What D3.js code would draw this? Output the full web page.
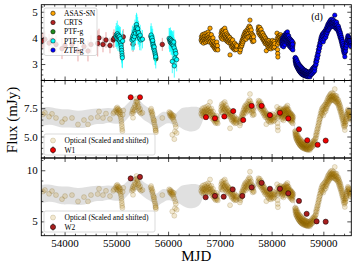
<!DOCTYPE html>
<html><head><meta charset="utf-8">
<script src="https://cdn.jsdelivr.net/npm/d3@7"></script>
<style>
body{margin:0;background:#fff}
svg{display:block}
text{font-family:"Liberation Serif","Times New Roman",serif;fill:#000}
</style></head>
<body><svg id="c" width="357" height="270"></svg>
<script>
// ---------------- DATA ----------------
const xDomain = [53550, 59540];
const xTicks = [54000, 55000, 56000, 57000, 58000, 59000];
const yTicksTop = [3, 4, 5];
const yTicksMid = [5.0, 7.5];
const yTicksBot = [5, 10];
const yDomTop = [2.37, 5.27];
const yDomMid = [3.1, 9.95];
const yDomBot = [3.6, 11.2];

// [MJD, flux (mJy), err]
const crts = [[53580,3.89,0.3],[53620,3.95,0.3],[53700,3.80,0.35],[53757,3.91,0.3],[53834,3.75,0.35],[53950,3.59,0.4],[54008,3.71,0.3],[54143,3.75,0.35],[54259,3.50,0.4],[54375,3.67,0.3],[54452,3.50,0.4],[54510,3.75,0.35],[54640,3.79,0.5],[54665,4.00,0.35],[54742,3.75,0.3],[54800,3.92,0.3],[54877,3.71,0.3],[54941,3.92,0.3],[54955,3.98,0.35],[55134,4.04,0.3],[55322,3.76,0.3],[55888,3.75,0.25]];
const ptfg = [[55758,3.26,0.15],[55765,3.20,0.15]];
const ptfr = [[54990,4.05,0.4],[55000,4.12,0.45],[55010,3.98,0.4],[55018,4.16,0.5],[55025,4.08,0.4],[55032,3.95,0.45],[55040,4.10,0.4],[55048,4.02,0.4],[55055,3.92,0.45],[55062,4.05,0.4],[55070,3.88,0.4],[55078,3.97,0.45],[55085,3.80,0.4],[55092,3.72,0.45],[55098,3.62,0.4],[55103,3.52,0.45],[55108,3.42,0.4],[55112,3.32,0.45],[55116,3.24,0.4],[55122,3.88,0.4],
[55300,3.92,0.4],[55310,4.00,0.45],[55320,4.08,0.4],[55330,3.96,0.45],[55340,4.15,0.4],[55350,4.05,0.5],[55360,4.25,0.45],[55370,4.18,0.4],[55380,4.38,0.5],[55390,4.51,0.45],[55398,4.40,0.5],[55405,4.28,0.4],[55412,4.35,0.45],[55420,4.15,0.4],[55430,4.20,0.45],[55440,4.05,0.4],[55450,3.98,0.45],[55460,4.10,0.4],[55475,3.92,0.4],[55505,3.95,0.35],
[55665,4.05,0.4],[55672,4.11,0.45],[55680,3.95,0.4],[55688,4.00,0.45],[55695,3.85,0.4],[55702,3.90,0.45],[55710,3.75,0.4],[55718,3.68,0.45],[55725,3.58,0.4],[55732,3.65,0.45],[55740,3.50,0.4],[55748,3.42,0.45],[55755,3.35,0.4],[55762,3.28,0.45],
[56020,3.98,0.4],[56030,3.92,0.45],[56038,3.85,0.4],[56045,3.95,0.45],[56052,3.88,0.4],[56058,3.80,0.45],[56065,3.90,0.4],[56072,3.82,0.45],[56080,3.75,0.4],[56081,3.10,0.45],[56088,3.86,0.4],[56095,3.78,0.45],[56102,3.70,0.4],[56110,3.84,0.45],[56118,3.62,0.4],[56120,2.93,0.45],[56133,3.23,0.4],[56140,3.50,0.45],[56150,3.40,0.4],[56166,3.17,0.45]];
// [MJD, flux]
const asassn = [
[56638,3.92],[56645,4.05],[56652,3.85],[56660,3.98],[56664,4.12],[56671,3.90],[56678,4.02],[56684,3.80],[56690,3.96],[56697,4.15],[56703,3.88],[56710,4.00],[56716,4.08],[56722,3.83],[56729,3.95],[56735,4.18],[56741,3.92],[56748,4.05],[56754,3.86],[56760,4.10],[56767,3.98],[56773,4.22],[56780,3.90],[56786,4.03],[56792,4.14],[56799,3.84],[56805,3.97],[56810,4.37],[56816,4.06],[56823,3.88],[56829,3.99],[56836,4.12],[56842,3.80],[56849,3.93],[56855,3.72],[56862,3.88],[56868,4.00],[56875,3.76],[56881,3.66],[56888,3.85],[56894,3.71],[56901,3.60],[56907,3.79],[56914,3.68],[56920,3.55],[56927,3.74],[56933,3.62],[56940,3.84],[56946,3.58],[56953,3.70],[56960,3.54],
[57020,4.05],[57026,4.18],[57032,3.98],[57038,4.28],[57045,4.10],[57051,4.22],[57057,3.95],[57064,4.15],[57070,4.32],[57076,4.02],[57083,4.20],[57089,4.08],[57095,4.37],[57101,4.12],[57108,3.96],[57114,4.25],[57120,4.05],[57127,3.90],[57133,4.15],[57139,4.00],[57146,3.86],[57152,4.10],[57158,3.94],[57165,4.05],[57171,3.82],[57177,3.97],[57184,3.88],[57190,4.02],[57197,3.35],[57203,3.90],[57209,3.78],[57216,3.95],[57222,3.70],[57228,3.86],[57235,3.64],[57241,3.80],[57247,3.92],[57254,3.68],[57260,3.75],[57266,3.58],[57273,3.72],[57279,3.62],[57285,3.80],[57292,3.54],[57298,3.68],[57304,3.60],[57311,3.74],[57317,3.56],[57323,3.66],[57330,3.70],
[57386,3.46],[57392,3.62],[57398,3.55],[57405,3.74],[57411,3.66],[57417,3.82],[57424,3.70],[57430,3.90],[57436,3.78],[57443,3.96],[57449,3.85],[57455,4.05],[57462,3.92],[57468,4.12],[57474,3.98],[57481,4.18],[57487,4.04],[57493,4.24],[57500,4.10],[57506,3.95],[57512,4.20],[57519,4.08],[57525,4.30],[57531,4.14],[57538,4.02],[57544,4.26],[57550,4.38],[57557,4.18],[57563,4.05],[57569,4.45],[57576,4.28],[57582,4.68],[57588,4.40],[57595,4.22],[57601,4.08],[57607,4.30],[57614,3.96],[57620,4.15],[57626,4.02],[57633,3.86],[57639,4.10],[57645,3.92],[57652,4.04],[57658,3.88],
[57740,4.30],[57746,4.42],[57752,4.18],[57759,4.35],[57765,4.22],[57771,4.40],[57778,4.10],[57784,4.28],[57790,4.15],[57797,4.32],[57803,4.05],[57809,4.20],[57816,4.12],[57822,3.98],[57828,4.18],[57835,4.06],[57841,3.92],[57847,4.10],[57854,3.96],[57860,3.85],[57866,4.04],[57873,3.90],[57879,3.78],[57885,3.98],[57892,3.84],[57898,3.51],[57904,3.92],[57911,3.76],[57917,3.88],[57923,3.70],[57930,3.82],[57936,3.64],[57942,3.78],[57949,3.90],[57955,3.60],[57961,3.74],[57968,3.84],[57974,3.66],[57980,3.78],[57987,3.58],[57993,3.70],[57999,3.82],[58006,3.64],[58012,3.76],[58018,3.90],[58025,3.68],[58031,3.80],[58037,3.62],[58044,3.74],[58050,3.86],[58056,3.66],[58062,3.78],
[58105,4.18],[58109,3.98],[58112,3.75],[58115,3.55],[58118,3.40],[58121,3.27],[58125,3.88],[58131,4.05],[58137,3.82],[58143,3.95],[58150,4.10],[58156,3.88],[58162,4.02],[58169,3.92],[58175,4.12],[58181,3.96],[58188,4.05],[58194,3.88],[58200,4.00],[58210,3.92],[58222,4.08],[58235,3.94],[58248,4.02],[58260,3.86],[58275,3.98],[58290,3.90],[58305,4.04],[58320,3.82],[58335,3.94],[58350,3.78],[58365,3.90],[58380,3.74],[58395,3.84],[58410,3.70],[58420,3.80]];
const ztfg = [
[58196,3.80],[58200,3.92],[58203,3.70],[58207,3.85],[58210,3.98],[58214,3.75],[58217,3.88],[58221,4.02],[58224,3.78],[58228,3.94],[58231,3.66],[58235,3.90],[58238,4.05],[58242,3.82],[58245,3.96],[58249,4.10],[58252,3.86],[58256,4.00],[58259,3.74],[58263,3.94],[58266,4.12],[58270,3.88],[58273,4.04],[58277,4.18],[58280,3.92],[58284,4.08],[58287,3.84],[58291,4.00],[58294,4.15],[58298,3.90],[58301,4.05],[58305,4.23],[58308,3.96],[58312,4.10],[58315,3.86],[58319,4.02],[58322,3.80],[58326,3.95],[58329,4.08],[58333,3.78],[58336,3.92],[58340,3.70],[58343,3.86],[58347,3.98],[58350,3.74],[58354,3.88],[58357,3.66],[58361,3.82],[58364,3.94],[58368,3.72],[58371,3.85],[58375,3.62],[58378,3.78],[58382,3.90],[58385,3.68],[58389,3.80],[58392,3.58],[58396,3.74],[58399,3.86],[58403,3.64],[58406,3.76],[58410,3.54],
[58452,3.22],[58456,3.12],[58459,3.25],[58463,3.05],[58466,3.16],[58470,2.98],[58473,3.10],[58477,3.20],[58480,2.95],[58484,3.06],[58487,2.90],[58491,3.02],[58494,3.12],[58498,2.88],[58501,2.98],[58505,2.84],[58508,2.95],[58512,3.05],[58515,2.80],[58519,2.92],[58522,2.78],[58526,2.88],[58529,2.98],[58533,2.75],[58536,2.86],[58540,2.72],[58543,2.84],[58547,2.94],[58550,2.70],[58554,2.82],[58557,2.68],[58561,2.78],[58564,2.90],[58568,2.66],[58571,2.76],[58575,2.64],[58578,2.74],[58582,2.86],[58585,2.62],[58589,2.72],[58592,2.80],[58596,2.60],[58599,2.70],[58603,2.82],[58606,2.64],[58610,2.74],[58613,2.58],[58617,2.68],[58620,2.78],[58624,2.62],[58627,2.72],[58631,2.56],[58634,2.66],[58638,2.76],[58641,2.60],[58645,2.70],[58648,2.55],[58652,2.64],[58655,2.74],[58659,2.58],[58662,2.68],[58666,2.54],[58670,2.62],[58673,2.72],[58677,2.56],[58680,2.66],[58684,2.52],[58688,2.60],[58692,2.70],[58696,2.55],[58700,2.64],[58705,2.51],[58710,2.60],[58715,2.68],[58720,2.54],[58725,2.62],[58730,2.70],[58735,2.56],[58740,2.51],[58745,2.64],[58750,2.58],[58755,2.72],[58760,2.60],[58766,2.68],[58772,2.76],[58778,2.62],[58784,2.72],[58790,2.82],[58796,2.66],[58802,2.76],[58808,2.86],[58814,2.70],[58820,2.80],[58826,2.90],[58832,2.74],[58838,2.85],
[58845,2.95],[58852,3.08],[58858,2.98],[58865,3.18],[58872,3.10],[58878,3.30],[58885,3.22],[58892,3.42],[58898,3.34],[58905,3.55],[58912,3.48],[58918,3.68],[58925,3.60],[58932,3.80],[58938,3.72],[58945,3.92],[58952,3.84],[58958,4.02],[58965,3.95],[58972,4.10],[58978,3.90],[58985,4.15],[58992,4.05],[58998,3.85],[59005,4.20],[59012,4.08],[59018,3.96],[59025,4.25],
[59035,4.10],[59040,4.28],[59045,4.02],[59050,4.18],[59055,4.35],[59060,4.12],[59065,4.26],[59070,4.42],[59075,4.20],[59080,4.34],[59085,4.50],[59090,4.28],[59095,4.40],[59100,4.55],[59105,4.32],[59110,4.46],[59115,4.60],[59120,4.38],[59125,4.52],[59130,4.65],[59135,4.42],[59140,4.56],[59145,4.70],[59150,4.48],[59155,4.60],[59160,4.45],[59165,4.58],[59170,4.72],[59175,4.50],[59180,4.62],[59185,4.44],[59190,4.56],[59195,4.68],[59200,4.48],[59205,4.60],[59210,4.42],[59215,4.55],[59220,4.87],[59225,4.50],[59230,4.62],[59235,4.40],[59240,4.54],[59245,4.36],[59250,4.48],[59255,4.60],[59260,4.38],[59265,4.50],[59270,4.32],
[59280,4.40],[59285,4.28],[59290,4.45],[59295,4.22],[59300,4.36],[59305,4.15],[59310,4.30],[59315,4.10],[59320,4.24],[59325,4.02],[59330,4.18],[59335,3.96],[59340,4.10],[59345,3.88],[59350,4.02],[59355,3.80],[59360,3.94],[59365,3.72],[59370,3.86],[59375,3.64],[59380,3.78],[59385,3.54],[59390,3.70],[59395,3.46],[59400,3.62],[59405,3.40],[59410,3.55],[59415,3.28],[59420,3.45],[59425,3.60],[59430,3.50],[59435,3.70],[59440,3.62],[59445,3.80],[59450,3.72],[59455,3.90],[59460,3.82],[59465,4.00],[59470,3.90],[59475,4.08],[59480,3.95],[59485,4.04],[59490,3.88],[59495,4.00],[59500,3.84],[59505,3.96],[59510,3.78],[59515,3.90],[59520,3.72],[59525,3.85],[59530,3.68],[59535,3.80]];

// WISE [MJD, flux, err]
const w1 = [[55277,8.47,0.2],[55457,8.47,0.2],[56732,6.71,0.1],[56906,6.61,0.1],[57086,6.77,0.1],[57259,7.25,0.1],[57452,6.46,0.1],[57615,7.71,0.1],[57808,7.71,0.1],[57968,6.89,0.1],[58161,7.10,0.1],[58322,6.59,0.1],[58529,5.64,0.1],[58689,4.67,0.1],[58890,4.27,0.1],[59045,4.64,0.1]];
const w2 = [[55277,9.20,0.3],[55457,9.35,0.3],[56726,7.36,0.1],[56906,7.49,0.1],[57074,7.42,0.1],[57248,8.13,0.1],[57434,7.49,0.1],[57615,8.33,0.1],[57808,8.77,0.1],[57968,8.19,0.1],[58161,8.19,0.1],[58322,7.75,0.1],[58529,7.00,0.1],[58677,5.74,0.1],[58870,5.00,0.1],[59045,4.97,0.1]];

// GP fit to optical light curve: MJD, mean, sigma (optical flux units)
const gpMjd  = [53550,53700,53815,53950,54105,54250,54395,54520,54626,54740,54838,54940,55032,55100,55167,55230,55283,55340,55399,55460,55515,55580,55650,55710,55766,55820,55882,55940,55998,56060,56114,56170,56230,56290,56346,56420,56481,56550,56616,56670,56700,56760,56820,56880,56940,56990,57040,57100,57160,57220,57280,57330,57360,57400,57450,57510,57560,57600,57650,57700,57750,57810,57870,57930,57990,58040,58085,58130,58200,58260,58320,58380,58420,58450,58500,58560,58620,58680,58740,58800,58840,58900,58960,59010,59060,59120,59180,59240,59280,59330,59380,59420,59460,59500,59540];
const gpMean = [3.79,3.85,3.79,3.72,3.75,3.68,3.71,3.78,3.83,3.80,3.87,3.82,3.83,3.80,3.91,4.05,4.16,4.20,4.24,4.12,3.99,3.90,3.83,3.70,3.51,3.62,3.71,3.76,3.75,3.72,3.67,3.70,3.75,3.73,3.71,3.70,3.71,3.73,3.75,3.85,3.97,4.05,4.05,3.85,3.68,3.80,4.12,4.20,4.00,3.85,3.72,3.62,3.55,3.62,3.90,4.12,4.30,4.30,4.05,4.20,4.30,4.15,3.95,3.80,3.72,3.75,3.80,3.70,3.98,4.00,3.95,3.75,3.65,3.30,3.00,2.82,2.70,2.65,2.60,2.75,2.90,3.25,3.65,3.98,4.20,4.45,4.55,4.55,4.40,4.10,3.75,3.40,3.85,3.95,3.75];
const gpSig  = [0.37,0.34,0.33,0.36,0.35,0.33,0.35,0.32,0.30,0.30,0.28,0.29,0.30,0.28,0.30,0.28,0.28,0.27,0.28,0.29,0.30,0.29,0.30,0.26,0.25,0.27,0.28,0.24,0.20,0.19,0.18,0.25,0.35,0.42,0.45,0.48,0.48,0.46,0.40,0.22,0.12,0.08,0.08,0.08,0.08,0.12,0.08,0.08,0.08,0.08,0.08,0.08,0.12,0.08,0.08,0.08,0.08,0.08,0.08,0.12,0.08,0.08,0.08,0.08,0.08,0.08,0.12,0.08,0.07,0.07,0.07,0.07,0.07,0.08,0.07,0.07,0.07,0.07,0.07,0.07,0.08,0.08,0.08,0.08,0.07,0.07,0.07,0.07,0.07,0.07,0.07,0.08,0.07,0.07,0.08];

// optical scale & shift applied for lower panels: flux' = lo + (flux - base)*k
const midScale = {base: 2.51, lo: 3.81, k: 2.28};
const botScale = {base: 2.51, lo: 4.52, k: 2.46};

const legendTop = ["ASAS-SN", "CRTS", "PTF-g", "PTF-R", "ZTF-g"];
const colTop = {"ASAS-SN":"#ffa500","CRTS":"#b22222","PTF-g":"#1e8c1e","PTF-R":"#00ffff","ZTF-g":"#0000ff"};

// ---------------- DRAW ----------------
const svg = d3.select("#c");
const L = 41.3, R = 351.3;
const P = [{t:4.7,b:80.5},{t:80.5,b:158},{t:158,b:235.7}];
const x = d3.scaleLinear().domain(xDomain).range([L, R]);
const yT = d3.scaleLinear().domain(yDomTop).range([P[0].b, P[0].t]);
const yM = d3.scaleLinear().domain(yDomMid).range([P[1].b, P[1].t]);
const yB = d3.scaleLinear().domain(yDomBot).range([P[2].b, P[2].t]);

svg.append("rect").attr("width",357).attr("height",270).attr("fill","#fff");
P.forEach((p,i)=>{
  svg.append("clipPath").attr("id","cp"+i).append("rect")
    .attr("x",L).attr("y",p.t).attr("width",R-L).attr("height",p.b-p.t);
});

// ---- Top panel ----
const g0 = svg.append("g").attr("clip-path","url(#cp0)");
function errbars(g, data, col, op, sw){
  g.selectAll(null).data(data).enter().append("line")
    .attr("x1",d=>x(d[0])).attr("x2",d=>x(d[0]))
    .attr("y1",d=>yT(d[1]-d[2])).attr("y2",d=>yT(d[1]+d[2]))
    .attr("stroke",col).attr("stroke-opacity",op).attr("stroke-width",sw);
}
function dots(g, data, yS, col, r){
  g.selectAll(null).data(data).enter().append("circle")
    .attr("cx",d=>x(d[0])).attr("cy",d=>yS(d[1])).attr("r",r)
    .attr("fill",col).attr("stroke","#000").attr("stroke-width",0.5);
}
dots(g0, asassn, yT, colTop["ASAS-SN"], 2.2);
errbars(g0, crts, "#d04040", 0.45, 1);
dots(g0, crts, yT, colTop["CRTS"], 2.3);
errbars(g0, ptfg, "#1e8c1e", 0.6, 1);
dots(g0, ptfg, yT, colTop["PTF-g"], 2.2);
errbars(g0, ptfr, "#00ffff", 0.7, 1);
dots(g0, ptfr, yT, colTop["PTF-R"], 2.2);
dots(g0, ztfg, yT, colTop["ZTF-g"], 2.2);

// ---- lower panels ----
const optical = [].concat(crts, ptfg, ptfr, asassn, ztfg);
function lower(idx, yS, sc, wdata, wcol){
  const g = svg.append("g").attr("clip-path","url(#cp"+idx+")");
  const f = v => sc.lo + (v - sc.base)*sc.k;
  const gp = gpMjd.map((m,i)=>({m, lo:f(gpMean[i]-gpSig[i]), hi:f(gpMean[i]+gpSig[i])}));
  g.append("path").datum(gp)
    .attr("d", d3.area().x(d=>x(d.m)).y0(d=>yS(d.lo)).y1(d=>yS(d.hi)).curve(d3.curveBasis))
    .attr("fill","#d3d3d3").attr("fill-opacity",0.7);
  g.selectAll(null).data(optical).enter().append("circle")
    .attr("cx",d=>x(d[0])).attr("cy",d=>yS(f(d[1]))).attr("r",2.5)
    .attr("fill","#c08a14").attr("fill-opacity",0.2)
    .attr("stroke","#6a4800").attr("stroke-opacity",0.28).attr("stroke-width",0.6);
  g.selectAll(null).data(wdata).enter().append("line")
    .attr("x1",d=>x(d[0])).attr("x2",d=>x(d[0]))
    .attr("y1",d=>yS(d[1]-d[2])).attr("y2",d=>yS(d[1]+d[2]))
    .attr("stroke","#888").attr("stroke-opacity",0.5).attr("stroke-width",0.8);
  dots(g, wdata, yS, wcol, 2.6);
}
lower(1, yM, midScale, w1, "#ee0000");
lower(2, yB, botScale, w2, "#a81e1e");

// ---- axes ----
function frame(p, yS, ticks, minorStep, fmt){
  const gg = svg.append("g");
  const minorX = d3.range(53600, 59541, 200).filter(v=>xTicks.indexOf(v)<0);
  gg.append("g").attr("transform",`translate(0,${p.b})`)
    .call(d3.axisBottom(x).tickValues(xTicks).tickSize(-4).tickPadding(4).tickFormat(p===P[2]?d3.format("d"):""));
  gg.append("g").attr("transform",`translate(0,${p.b})`)
    .call(d3.axisBottom(x).tickValues(minorX).tickSize(-2).tickFormat(""));
  gg.append("g").attr("transform",`translate(0,${p.t})`)
    .call(d3.axisTop(x).tickValues(xTicks).tickSize(-4).tickFormat(""));
  gg.append("g").attr("transform",`translate(0,${p.t})`)
    .call(d3.axisTop(x).tickValues(minorX).tickSize(-2).tickFormat(""));
  const dom = yS.domain();
  const minorY = d3.range(Math.ceil(dom[0]/minorStep)*minorStep, dom[1], minorStep)
     .filter(v=>!ticks.some(t=>Math.abs(t-v)<1e-6));
  gg.append("g").attr("transform",`translate(${L},0)`)
    .call(d3.axisLeft(yS).tickValues(ticks).tickSize(-4).tickPadding(3.5).tickFormat(fmt));
  gg.append("g").attr("transform",`translate(${L},0)`)
    .call(d3.axisLeft(yS).tickValues(minorY).tickSize(-2).tickFormat(""));
  gg.append("g").attr("transform",`translate(${R},0)`)
    .call(d3.axisRight(yS).tickValues(ticks).tickSize(-4).tickFormat(""));
  gg.append("g").attr("transform",`translate(${R},0)`)
    .call(d3.axisRight(yS).tickValues(minorY).tickSize(-2).tickFormat(""));
  gg.selectAll(".domain").remove();
  gg.selectAll(".tick line").attr("stroke","#000").attr("stroke-width",0.7);
  gg.selectAll(".tick text").attr("font-size",11).attr("font-family","'Liberation Serif',serif");
  svg.append("rect").attr("x",L).attr("y",p.t).attr("width",R-L).attr("height",p.b-p.t)
    .attr("fill","none").attr("stroke","#000").attr("stroke-width",0.9);
}
frame(P[0], yT, yTicksTop, 0.2, d3.format("d"));
frame(P[1], yM, yTicksMid, 0.5, d3.format(".1f"));
frame(P[2], yB, yTicksBot, 1, d3.format("d"));

// ---- legends ----
function legBox(x0,y0,w,h){
  svg.append("rect").attr("x",x0).attr("y",y0).attr("width",w).attr("height",h).attr("rx",2)
    .attr("fill","#fff").attr("fill-opacity",0.8).attr("stroke","#cccccc").attr("stroke-width",0.7);
}
legBox(44, 8, 53, 47.5);
legendTop.forEach((k,i)=>{
  const yy = 13.3 + i*9.2;
  svg.append("circle").attr("cx",53).attr("cy",yy).attr("r",2.2)
    .attr("fill",colTop[k]).attr("stroke","#000").attr("stroke-width",0.5);
  svg.append("text").attr("x",64).attr("y",yy+2.6).attr("font-size",7.5).text(k);
});
function lowLeg(y0, wcol, lab){
  legBox(44, y0, 111, 21);
  svg.append("circle").attr("cx",53).attr("cy",y0+6.5).attr("r",2.5)
    .attr("fill","#c08a14").attr("fill-opacity",0.2).attr("stroke","#6a4800").attr("stroke-opacity",0.28).attr("stroke-width",0.6);
  svg.append("text").attr("x",64.5).attr("y",y0+9).attr("font-size",7.5).text("Optical (Scaled and shifted)");
  svg.append("line").attr("x1",53).attr("x2",53).attr("y1",y0+12.5).attr("y2",y0+19.5).attr("stroke","#000").attr("stroke-width",0.8);
  svg.append("circle").attr("cx",53).attr("cy",y0+16).attr("r",2.6)
    .attr("fill",wcol).attr("stroke","#000").attr("stroke-width",0.5);
  svg.append("text").attr("x",64.5).attr("y",y0+18.6).attr("font-size",7.5).text(lab);
}
lowLeg(134, "#ee0000", "W1");
lowLeg(211, "#a81e1e", "W2");

// ---- labels ----
svg.append("text").attr("x",317).attr("y",19.5).attr("font-size",10).attr("text-anchor","middle").text("(d)");
svg.append("text").attr("transform","translate(17,120) rotate(-90)").attr("text-anchor","middle")
  .attr("font-size",15).text("Flux (mJy)");
svg.append("text").attr("x",196.3).attr("y",261).attr("text-anchor","middle").attr("font-size",15).text("MJD");
</script></body></html>
